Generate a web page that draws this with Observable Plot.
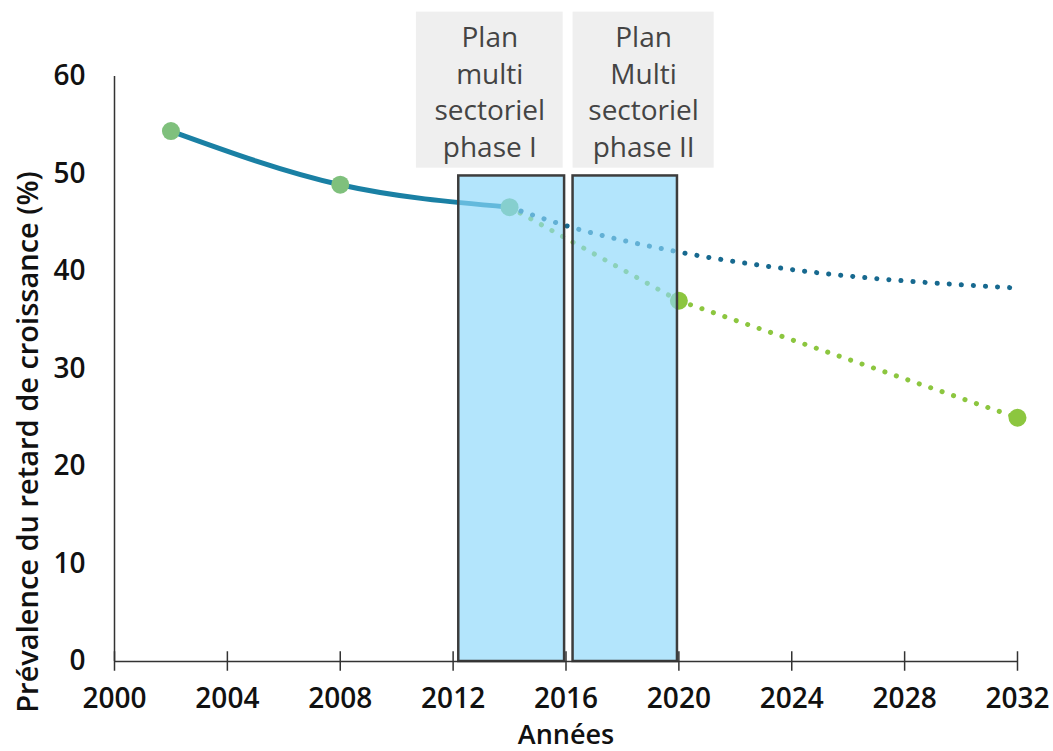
<!DOCTYPE html>
<html><head><meta charset="utf-8">
<script src="https://cdn.jsdelivr.net/npm/d3@7"></script>
<script src="https://cdn.jsdelivr.net/npm/@observablehq/plot@0.6"></script>
<style>body{margin:0;background:#fff;} svg{display:block;}</style>
</head><body><div id="chart"></div>
<script>
// Observed prevalence (solid)
const obsYears = [2002, 2008, 2014];
const obsValues = [54.4, 48.9, 46.6];
// Trend projection (blue dotted)
const trendYears = [2014, 2016, 2020, 2024, 2032];
const trendValues = [46.6, 44.7, 42.0, 40.2, 38.3];
// Target projection (green dotted)
const targetYears = [2014, 2020, 2032];
const targetValues = [46.6, 37.0, 25.0];
// Phases of the plan
const phaseStart = [2012.2, 2016.25];
const phaseEnd = [2015.95, 2019.95];
const phaseTop = [49.8, 49.8];
const phaseLabels = ["Plan\nmulti\nsectoriel\nphase I", "Plan\nMulti\nsectoriel\nphase II"];
const labelBoxStart = [2010.7, 2016.25];
const labelBoxEnd = [2015.9, 2021.25];
const labelBoxBottom = 50.6;
const labelBoxTop = 66.6;
const xTicks = [2000, 2004, 2008, 2012, 2016, 2020, 2024, 2028, 2032];
const yTicks = [0, 10, 20, 30, 40, 50, 60];

const obs = obsYears.map((x, i) => ({x, y: obsValues[i]}));
const trend = trendYears.map((x, i) => ({x, y: trendValues[i]}));
const target = targetYears.map((x, i) => ({x, y: targetValues[i]}));
const phases = phaseStart.map((s, i) => ({x1: s, x2: phaseEnd[i], y2: phaseTop[i]}));
const boxes = labelBoxStart.map((s, i) => ({x1: s, x2: labelBoxEnd[i], label: phaseLabels[i]}));
const ptsMuted = obs;
const ptsBright = target.slice(1);

const font = "'Open Sans', 'DejaVu Sans', sans-serif";

const chart = Plot.plot({
  width: 1053,
  height: 751,
  marginLeft: 114,
  marginRight: 36,
  marginTop: 76,
  marginBottom: 90,
  style: {fontFamily: font, fontSize: "27px", color: "#111", background: "#fff"},
  x: {domain: [2000, 2032]},
  y: {domain: [0, 60]},
  marks: [
    // label boxes above plot
    Plot.rect(boxes, {x1: "x1", x2: "x2", y1: labelBoxBottom, y2: labelBoxTop, fill: "#efefef"}),
    Plot.text(boxes, {x: d => (d.x1 + d.x2) / 2, y: (labelBoxBottom + labelBoxTop) / 2, text: "label",
      fontSize: 28, fill: "#444", lineHeight: 1.31, fontFamily: font}),
    // lines
    Plot.line(target, {x: "x", y: "y", stroke: "#8cc63f", strokeWidth: 5, strokeDasharray: "0.1 12", strokeLinecap: "round"}),
    Plot.line(trend, {x: "x", y: "y", curve: "monotone-x", stroke: "#17698f", strokeWidth: 5, strokeDasharray: "0.1 12", strokeLinecap: "round"}),
    Plot.line(obs, {x: "x", y: "y", curve: "monotone-x", stroke: "#1a80a4", strokeWidth: 5}),
    Plot.dot(ptsMuted, {x: "x", y: "y", r: 9, fill: "#7fc07c"}),
    Plot.dot(ptsBright, {x: "x", y: "y", r: 9, fill: "#8cc63f"}),
    // phase rectangles
    Plot.rect(phases, {x1: "x1", x2: "x2", y1: 0, y2: "y2", fill: "#8ad7fa", fillOpacity: 0.65, stroke: "#3d3d3d", strokeWidth: 2.5}),
    // axes
    Plot.ruleY([0], {stroke: "#333", strokeWidth: 1.5}),
    Plot.ruleX([2000], {y1: 0, y2: 60, stroke: "#333", strokeWidth: 1.5}),
    Plot.ruleX(xTicks, {y1: -1, y2: 1, stroke: "#333", strokeWidth: 1.5}),
    Plot.axisX(xTicks, {tickSize: 0, tickPadding: 27, tickFormat: d => String(d), fontSize: 28, fontWeight: 600, fill: "#111", label: null}),
    Plot.axisY(yTicks, {tickSize: 0, tickPadding: 29, fontSize: 28, fontWeight: 600, fill: "#111", label: null}),
    Plot.text(["Années"], {frameAnchor: "bottom", dy: 82, fontSize: 27, fontWeight: 600, fill: "#111"}),
    Plot.text(["Prévalence du retard de croissance (%)"], {frameAnchor: "left", dx: -86, dy: 73, rotate: -90, textAnchor: "middle", fontSize: 29, fontWeight: 600, fill: "#111"})
  ]
});
document.getElementById("chart").append(chart);
</script>
</body></html>
